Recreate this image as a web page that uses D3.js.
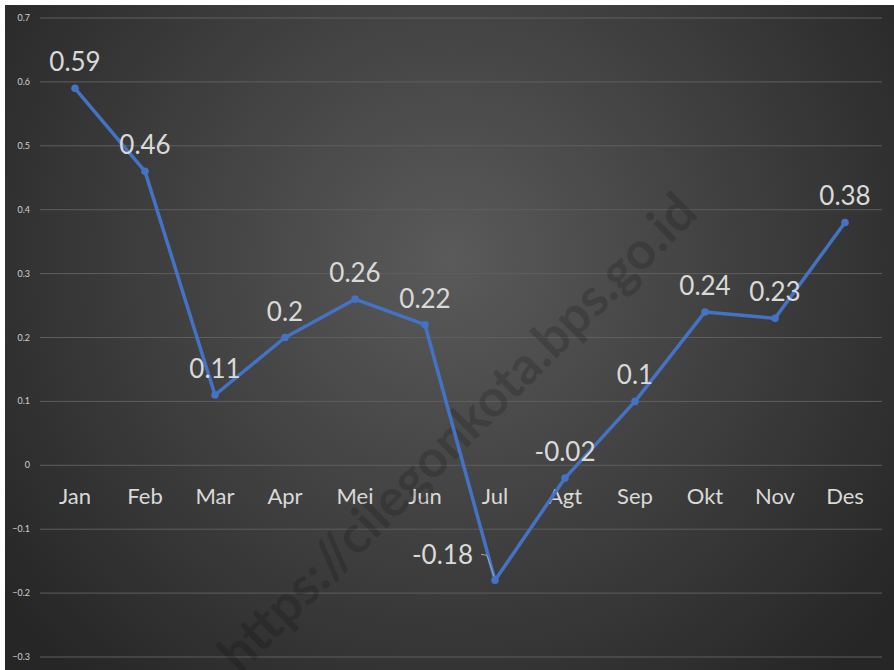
<!DOCTYPE html>
<html>
<head>
<meta charset="utf-8">
<title>Inflasi Bulanan</title>
<script src="https://cdnjs.cloudflare.com/ajax/libs/d3/7.8.5/d3.min.js"></script>
<style>
  body { margin: 0; background: #fff; }
  text { font-family: Lato, "Open Sans", sans-serif; }
</style>
</head>
<body>
<div id="chart"></div>
<script>
// data
var months = ["Jan","Feb","Mar","Apr","Mei","Jun","Jul","Agt","Sep","Okt","Nov","Des"];
var values = [0.59, 0.46, 0.11, 0.2, 0.26, 0.22, -0.18, -0.02, 0.1, 0.24, 0.23, 0.38];
var yTicks = [0.7, 0.6, 0.5, 0.4, 0.3, 0.2, 0.1, 0, -0.1, -0.2, -0.3];

var w = 894, h = 670;

var svg = d3.select("#chart").append("svg")
  .attr("width", w)
  .attr("height", h);

// background gradient
var defs = svg.append("defs");
var grad = defs.append("radialGradient")
  .attr("id", "bg")
  .attr("gradientUnits", "userSpaceOnUse")
  .attr("cx", 450).attr("cy", 260).attr("r", 560);
grad.append("stop").attr("offset", "0%").attr("stop-color", "#5a5a5a");
grad.append("stop").attr("offset", "100%").attr("stop-color", "#262626");

svg.append("rect")
  .attr("x", 5).attr("y", 5)
  .attr("width", w - 5).attr("height", h - 5)
  .attr("fill", "url(#bg)");

var x = d3.scaleBand()
  .domain(months)
  .range([40, 880]);

var y = d3.scaleLinear()
  .domain([-0.3, 0.7])
  .range([657, 18]);

// gridlines
svg.append("g").selectAll("line")
  .data(yTicks)
  .enter()
  .append("line")
  .attr("x1", 40).attr("x2", 882)
  .attr("y1", d => y(d)).attr("y2", d => y(d))
  .attr("stroke", "#5e5e5e")
  .attr("stroke-width", 1);

// y labels
svg.append("g").selectAll("text")
  .data(yTicks)
  .enter()
  .append("text")
  .attr("x", 30)
  .attr("y", d => y(d) + 3)
  .attr("text-anchor", "end")
  .attr("font-size", 9)
  .attr("fill", "#d0d0d0")
  .text(d => d3.format("")(+d.toFixed(1)));

// x labels
svg.append("g").selectAll("text")
  .data(months)
  .enter()
  .append("text")
  .attr("x", d => x(d) + x.bandwidth() / 2)
  .attr("y", y(0) + 39)
  .attr("text-anchor", "middle")
  .attr("font-size", 22)
  .attr("fill", "#d9d9d9")
  .text(d => d);

// watermark
svg.append("text")
  .attr("transform", "translate(470,445) rotate(-45)")
  .attr("text-anchor", "middle")
  .attr("font-size", 52)
  .attr("font-weight", "bold")
  .attr("fill", "rgba(0,0,0,0.16)")
  .text("https://cilegonkota.bps.go.id");

// line
var line = d3.line()
  .x((d, i) => x(months[i]) + x.bandwidth() / 2)
  .y(d => y(d));

svg.append("path")
  .datum(values)
  .attr("d", line)
  .attr("fill", "none")
  .attr("stroke", "#4472c4")
  .attr("stroke-width", 3.5)
  .attr("stroke-linejoin", "round");

svg.append("g").selectAll("circle")
  .data(values)
  .enter()
  .append("circle")
  .attr("cx", (d, i) => x(months[i]) + x.bandwidth() / 2)
  .attr("cy", d => y(d))
  .attr("r", 3.8)
  .attr("fill", "#4472c4");

// leader line for Jul
var jx = x("Jul") + x.bandwidth() / 2;
svg.append("path")
  .attr("d", "M" + (jx - 14) + "," + (y(-0.18) - 26) + " L" + (jx - 8) + "," + (y(-0.18) - 25) + " L" + (jx - 1) + "," + (y(-0.18) - 4))
  .attr("fill", "none")
  .attr("stroke", "#a6a6a6")
  .attr("stroke-width", 1);

// data labels
svg.append("g").selectAll("text")
  .data(values)
  .enter()
  .append("text")
  .attr("x", (d, i) => {
    var cx = x(months[i]) + x.bandwidth() / 2;
    return months[i] === "Jul" ? cx - 22 : cx;
  })
  .attr("y", (d, i) => months[i] === "Jul" ? y(d) - 16 : y(d) - 17)
  .attr("text-anchor", (d, i) => months[i] === "Jul" ? "end" : "middle")
  .attr("font-size", 26)
  .attr("fill", "#d9d9d9")
  .text(d => d);
</script>
</body>
</html>
